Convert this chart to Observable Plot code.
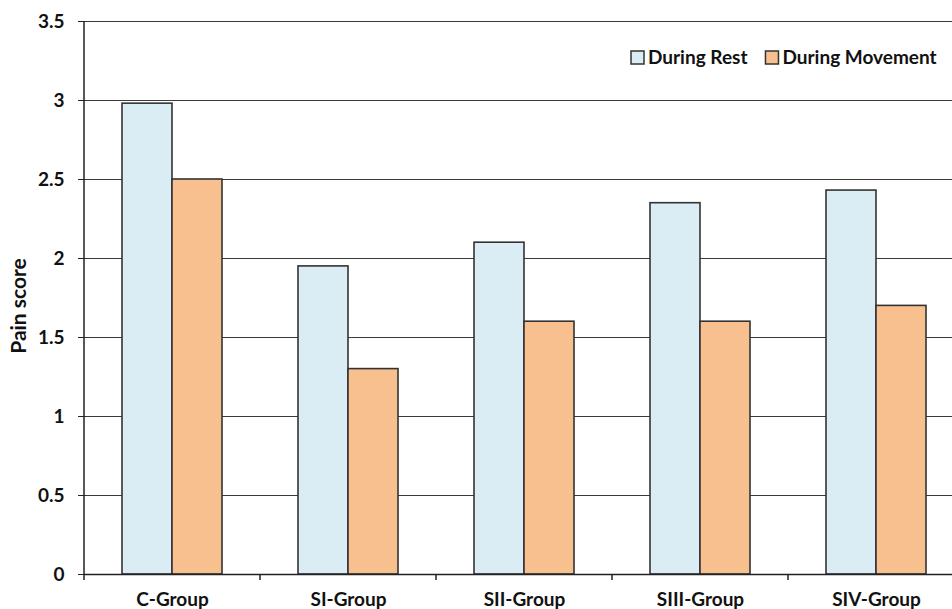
<!DOCTYPE html>
<html>
<head>
<meta charset="utf-8">
<script src="https://cdn.jsdelivr.net/npm/d3@7"></script>
<script src="https://cdn.jsdelivr.net/npm/@observablehq/plot@0.6"></script>
<style>
  html, body { margin: 0; padding: 0; background: #fff; overflow: hidden; width: 952px; height: 609px; }
  #chart { width: 952px; height: 609px; overflow: hidden; }
  #chart svg { max-width: none !important; }
  #chart svg text { font-family: Lato, "Open Sans", sans-serif; font-weight: bold; fill: #111; }
</style>
</head>
<body>
<div id="chart"></div>
<script>
const groups = ["C-Group", "SI-Group", "SII-Group", "SIII-Group", "SIV-Group"];
const series = ["During Rest", "During Movement"];
const restValues = [2.98, 1.95, 2.10, 2.35, 2.43];
const movementValues = [2.50, 1.30, 1.60, 1.60, 1.70];
const yTicks = [0, 0.5, 1, 1.5, 2, 2.5, 3, 3.5];
const colors = ["#daedf5", "#f9c08f"];

const data = [];
groups.forEach((g, i) => {
  data.push({group: g, series: series[0], value: restValues[i]});
  data.push({group: g, series: series[1], value: movementValues[i]});
});

const chart = Plot.plot({
  width: 964,
  height: 609,
  marginLeft: 84,
  marginRight: 0,
  marginTop: 21,
  marginBottom: 35,
  style: {fontFamily: "Lato, 'Open Sans', sans-serif", fontSize: "19px", overflow: "visible"},
  fx: {domain: groups, padding: 0, label: null},
  x: {domain: series, paddingInner: 0, paddingOuter: 0.76, axis: null},
  y: {domain: [0, 3.5], ticks: yTicks, label: null},
  color: {domain: series, range: colors},
  marks: [
    Plot.gridY(yTicks, {stroke: "#3a3a3a", strokeOpacity: 1, strokeWidth: 1.2}),
    Plot.barY(data, {fx: "group", x: "series", y: "value", fill: "series", stroke: "#333", strokeWidth: 1.6}),
    Plot.ruleY([0], {stroke: "#222", strokeWidth: 1.5}),
    Plot.axisY(yTicks, {tickSize: 6, tickPadding: 14, tickFormat: d => String(d), label: null, fontSize: 19, stroke: "#222"}),
    Plot.axisFx({anchor: "bottom", tickSize: 0, tickPadding: 18, fontSize: 19, label: null})
  ]
});

document.getElementById("chart").appendChild(chart);

// Axis lines and category boundary ticks drawn from the library's scales
const svg = d3.select(chart);
const y = chart.scale("y");
const fx = chart.scale("fx");
const y0 = y.apply(0), yTop = y.apply(3.5);
const axisG = svg.append("g").attr("stroke", "#222").attr("stroke-width", 1.5);
const left = fx.apply(groups[0]);
axisG.append("line").attr("x1", left).attr("x2", left).attr("y1", yTop).attr("y2", y0 + 6);
groups.slice(1).forEach(g => {
  const xb = fx.apply(g);
  axisG.append("line").attr("x1", xb).attr("x2", xb).attr("y1", y0).attr("y2", y0 + 6);
});

// Y axis title
svg.append("text")
  .attr("transform", "translate(26,306) rotate(-90)")
  .attr("text-anchor", "middle")
  .attr("font-size", 21)
  .text("Pain score");

// Legend (inside plot, top right)
const legend = svg.append("g").attr("transform", "translate(631,51)");
let lx = 0;
series.forEach((s, i) => {
  const g = legend.append("g").attr("transform", `translate(${lx},0)`);
  g.append("rect").attr("width", 13).attr("height", 13).attr("fill", colors[i]).attr("stroke", "#333").attr("stroke-width", 1.5);
  const t = g.append("text").attr("x", 17).attr("y", 13).attr("text-anchor", "start").attr("font-size", 19).text(s);
  lx += 17 + t.node().getComputedTextLength() + 18;
});
</script>
</body>
</html>
